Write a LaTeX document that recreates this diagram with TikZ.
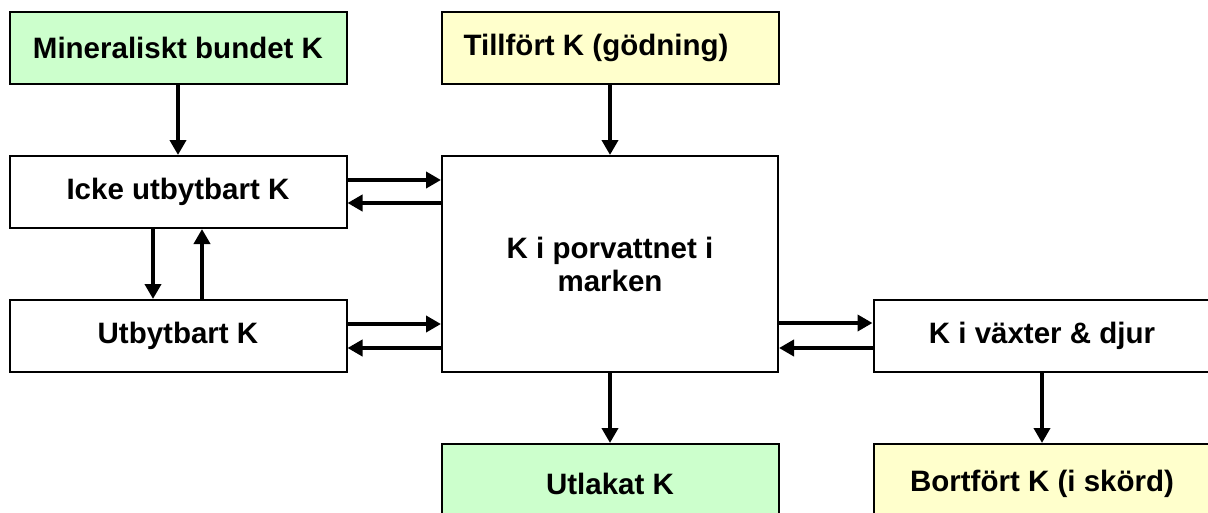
\documentclass[tikz,border=0pt]{standalone}
\usepackage{fontspec}
\setmainfont{Liberation Sans}
\usetikzlibrary{arrows.meta}

\definecolor{mingreen}{HTML}{CCFFCC}
\definecolor{addyellow}{HTML}{FFFFCC}

\tikzset{
    box/.style={draw, line width=2pt, minimum width=337pt, minimum height=72pt,
        inner sep=0pt, align=center, font=\fontsize{29.5}{33}\selectfont\bfseries},
    flow/.style={line width=4pt, -{Triangle[length=15pt, width=16pt]}},
}

\begin{document}
\begin{tikzpicture}[x=1pt, y=-1pt]
    \useasboundingbox (0, 0) rectangle (1208, 512);
    \clip (0, 0) rectangle (1208, 512);

    \node[box, fill=mingreen] (mineral) at (178, 47.5) {Mineraliskt bundet K};
    \node[box, fill=addyellow] (tillfort) at (610, 47.5) {Tillfört K (gödning)\hspace{28pt}};
    \node[box] (icke) at (178, 192) {Icke utbytbart K};
    \node[box] (utbyt) at (178, 336) {Utbytbart K};
    \node[box, minimum width=336pt, minimum height=216pt] (porv) at (610, 264) {K i porvattnet i\\marken};
    \node[box] (vaxter) at (1042, 336) {K i växter \& djur};
    \node[box, fill=mingreen, minimum height=80pt] (utlakat) at (610, 484) {Utlakat K};
    \node[box, fill=addyellow, minimum height=80pt] (bortfort) at (1042, 484) {Bortfört K (i skörd)};

    \draw[flow] (mineral) -- (icke);
    \draw[flow] (tillfort) -- (porv);
    \draw[flow] ([yshift=12pt]icke.east) -- ([yshift=12pt]icke.east -| porv.west);
    \draw[flow] ([yshift=-11pt]icke.east -| porv.west) -- ([yshift=-11pt]icke.east);
    \draw[flow] ([xshift=-25pt]icke.south) -- ([xshift=-25pt]utbyt.north);
    \draw[flow] ([xshift=24pt]utbyt.north) -- ([xshift=24pt]icke.south);
    \draw[flow] ([yshift=12pt]utbyt.east) -- ([yshift=12pt]utbyt.east -| porv.west);
    \draw[flow] ([yshift=-12pt]utbyt.east -| porv.west) -- ([yshift=-12pt]utbyt.east);
    \draw[flow] ([yshift=13pt]vaxter.west -| porv.east) -- ([yshift=13pt]vaxter.west);
    \draw[flow] ([yshift=-12pt]vaxter.west) -- ([yshift=-12pt]vaxter.west -| porv.east);
    \draw[flow] (porv) -- (utlakat);
    \draw[flow] (vaxter) -- (bortfort);
\end{tikzpicture}
\end{document}
